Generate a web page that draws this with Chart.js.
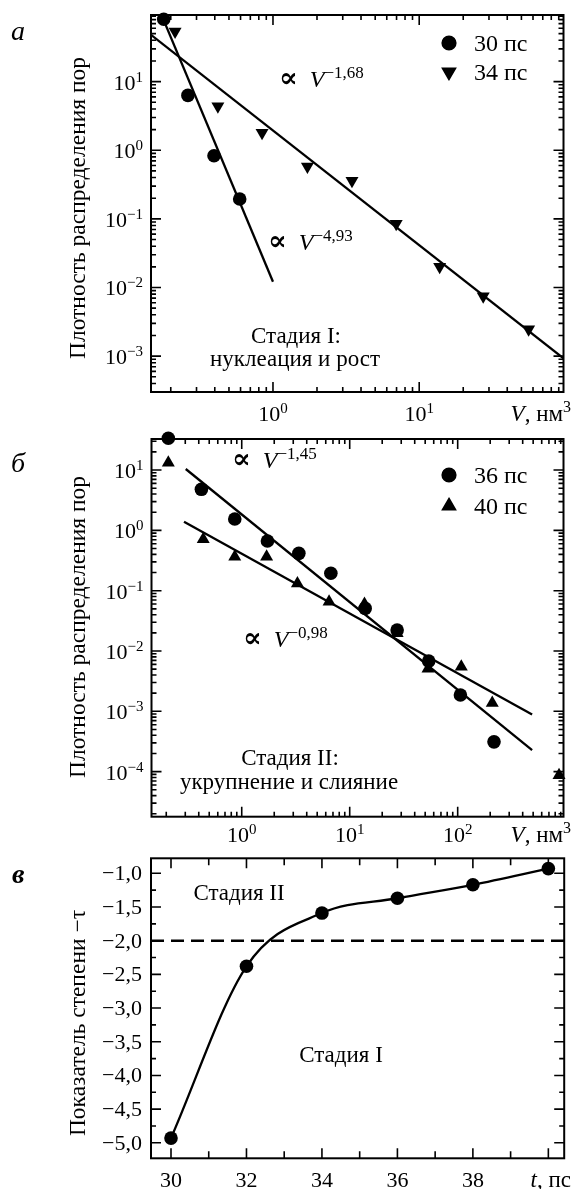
<!DOCTYPE html>
<html>
<head>
<meta charset="utf-8">
<script src="https://cdn.jsdelivr.net/npm/chart.js@4.4.1/dist/chart.umd.min.js"></script>
<style>
  body { margin: 0; background: #fff; width: 571px; height: 1189px; position: relative; overflow: hidden; }
  canvas { position: absolute; left: 0; }
</style>
</head>
<body>
<canvas id="panelA" width="571" height="430" style="top:0"></canvas>
<canvas id="panelB" width="571" height="420" style="top:430px"></canvas>
<canvas id="panelC" width="571" height="339" style="top:850px"></canvas>
<script>
// --- panel a: stage I, pore size distribution (V in nm^3)
const volA30 = [0.179, 0.262, 0.395, 0.592];
const densA30 = [81, 6.3, 0.83, 0.195];
const volA34 = [0.214, 0.42, 0.842, 1.72, 3.47, 6.96, 13.8, 27.4, 56];
const densA34 = [53.6, 4.39, 1.80, 0.58, 0.359, 0.0848, 0.0200, 0.00748, 0.00246];
const fitVolA30 = [0.173, 1.0];
const fitDensA30 = [93, 0.0121];
const fitVolA34 = [0.1465, 97];
const fitDensA34 = [48, 0.00093];

// --- panel b: stage II
const volB36 = [0.209, 0.423, 0.862, 1.73, 3.38, 6.69, 13.9, 27.5, 53.9, 106, 217];
const densB36 = [33.6, 4.79, 1.54, 0.665, 0.416, 0.194, 0.0508, 0.0222, 0.0068, 0.00186, 0.000312];
const volB40 = [0.209, 0.44, 0.862, 1.70, 3.28, 6.44, 13.7, 27.5, 53.1, 108, 209, 868];
const densB40 = [13.2, 0.71, 0.365, 0.365, 0.132, 0.0655, 0.060, 0.0196, 0.0051, 0.00547, 0.00138, 0.0000875];
const fitVolB36 = [0.303, 489];
const fitDensB36 = [10.4, 0.000228];
const fitVolB40 = [0.292, 489];
const fitDensB40 = [1.39, 0.000887];

// --- panel c: exponent vs time
const times = [30, 32, 34, 36, 38, 40];
const exponents = [-4.93, -2.38, -1.59, -1.37, -1.17, -0.93];
const threshold = -2.0;
const tMin = 29.47, tMax = 40.42;

const SERIF = '"Liberation Serif", "Times New Roman", "DejaVu Serif", serif';
const zip = (xs, ys) => xs.map((x, i) => ({ x: x, y: ys[i] }));

function fnt(size, style) { return (style || '') + ' ' + size + 'px ' + SERIF; }

// pieces: [text, kind]; kind: '' normal, 'i' italic, 's' superscript, 'bi' bold italic, 'sym' large symbol
function rich(ctx, pieces, x, y, align, size, supSize, supRise) {
  supSize = supSize || Math.round(size * 0.68);
  supRise = supRise || size * 0.36;
  const fonts = pieces.map(p => p[1] === 's' ? fnt(supSize) : p[1] === 'i' ? fnt(size, 'italic') :
    p[1] === 'bi' ? fnt(size, 'italic bold') : p[1] === 'sym' ? fnt(size + 4, 'bold') : fnt(size));
  let w = 0;
  const ws = pieces.map((p, i) => { ctx.font = fonts[i]; const m = ctx.measureText(p[0]).width; w += m; return m; });
  let cx = align === 'right' ? x - w : align === 'center' ? x - w / 2 : x;
  ctx.textAlign = 'left';
  ctx.textBaseline = 'alphabetic';
  pieces.forEach((p, i) => {
    ctx.font = fonts[i];
    ctx.fillText(p[0], cx, p[1] === 's' ? y - supRise : y);
    cx += ws[i];
  });
}

function tickList(scale, spec) {
  const out = [];
  if (spec.type === 'log') {
    const e0 = Math.floor(Math.log10(scale.min)), e1 = Math.ceil(Math.log10(scale.max));
    for (let e = e0; e <= e1; e++) {
      for (let m = 1; m < 10; m++) {
        const v = m * Math.pow(10, e);
        if (v > scale.min && v < scale.max) out.push({ v: v, major: m === 1, e: e });
      }
    }
  } else {
    const n0 = Math.ceil(scale.min / spec.minor - 1e-9), n1 = Math.floor(scale.max / spec.minor + 1e-9);
    for (let n = n0; n <= n1; n++) {
      const v = n * spec.minor;
      const r = v / spec.major;
      out.push({ v: v, major: Math.abs(r - Math.round(r)) < 1e-6 });
    }
  }
  return out;
}

function figure(cfg) {
  return {
    id: 'figure',
    afterDraw(chart) {
      const ctx = chart.ctx, a = chart.chartArea, sx = chart.scales.x, sy = chart.scales.y;
      ctx.save();
      ctx.fillStyle = '#000';
      ctx.strokeStyle = '#000';

      // frame
      ctx.lineWidth = 2;
      ctx.strokeRect(a.left, a.top, a.right - a.left, a.bottom - a.top);

      // inward ticks on all four sides
      ctx.lineWidth = 1.6;
      const xt = tickList(sx, cfg.x), yt = tickList(sy, cfg.y);
      ctx.beginPath();
      xt.forEach(t => {
        const px = sx.getPixelForValue(t.v), L = t.major ? cfg.x.majorLen : cfg.x.minorLen;
        ctx.moveTo(px, a.bottom); ctx.lineTo(px, a.bottom - L);
        ctx.moveTo(px, a.top); ctx.lineTo(px, a.top + L);
      });
      yt.forEach(t => {
        const py = sy.getPixelForValue(t.v), L = t.major ? cfg.y.majorLen : cfg.y.minorLen;
        ctx.moveTo(a.left, py); ctx.lineTo(a.left + L, py);
        ctx.moveTo(a.right, py); ctx.lineTo(a.right - L, py);
      });
      ctx.stroke();

      // tick labels
      xt.forEach(t => {
        if (!t.major) return;
        const px = sx.getPixelForValue(t.v);
        if (cfg.x.type === 'log') {
          if (cfg.x.labels.indexOf(t.e) < 0) return;
          rich(ctx, [['10', ''], [String(t.e).replace('-', '\u2212'), 's']], px, cfg.x.base, 'center', 22, 15, 8);
        } else {
          if (cfg.x.labels.indexOf(t.v) < 0) return;
          rich(ctx, [[String(t.v), '']], px, cfg.x.base, 'center', 22);
        }
      });
      yt.forEach(t => {
        if (!t.major) return;
        const py = sy.getPixelForValue(t.v);
        if (cfg.y.type === 'log') {
          if (cfg.y.labels.indexOf(t.e) < 0) return;
          rich(ctx, [['10', ''], [String(t.e).replace('-', '\u2212'), 's']], a.left - 8, py + 8, 'right', 22, 15, 8);
        } else {
          const s = t.v.toFixed(1).replace('.', ',').replace('-', '\u2212');
          rich(ctx, [[s, '']], a.left - 9, py + 7, 'right', 22);
        }
      });

      // unit label at the end of the x axis
      rich(ctx, cfg.unit.pieces, cfg.unit.x, cfg.unit.y, 'right', 23, 16, 9);

      // rotated y title
      ctx.save();
      ctx.translate(cfg.ytitle.x, cfg.ytitle.y);
      ctx.rotate(-Math.PI / 2);
      ctx.font = fnt(cfg.ytitle.size);
      ctx.textAlign = 'center';
      ctx.textBaseline = 'middle';
      ctx.fillText(cfg.ytitle.text, 0, 0);
      ctx.restore();

      // panel letter
      rich(ctx, [[cfg.letter.text, cfg.letter.kind]], cfg.letter.x, cfg.letter.y, 'left', 28);

      // legend, markers taken from the datasets' own styles
      (cfg.legend || []).forEach(l => {
        const ds = chart.data.datasets[l.ds];
        Chart.helpers.drawPoint(ctx, {
          pointStyle: ds.pointStyle, rotation: ds.rotation || 0, radius: ds.pointRadius, borderWidth: 1
        }, l.x, l.y);
        ctx.fill();
        rich(ctx, [[ds.label, '']], l.x + 25, l.y + 8, 'left', 24);
      });

      // annotations
      (cfg.notes || []).forEach(n => rich(ctx, n.pieces, n.x, n.y, n.align, n.size || 23, n.sup, n.rise));
      ctx.restore();
    }
  };
}

const lineStyle = { showLine: true, pointRadius: 0, borderColor: '#000', borderWidth: 2.3, fill: false };
const dotStyle = { pointStyle: 'circle', pointRadius: 6.8, backgroundColor: '#000', borderColor: '#000', borderWidth: 0, clip: false };
const triStyle = { pointStyle: 'triangle', pointRadius: 7.5, backgroundColor: '#000', borderColor: '#000', borderWidth: 0, clip: false };
const common = {
  responsive: false, animation: false, events: [],
  plugins: { legend: { display: false }, tooltip: { enabled: false } }
};
const prop = (exp) => [['\u221D', 'sym'], ['  ', ''], ['V', 'i'], [exp, 's']];

// panel a
new Chart(document.getElementById('panelA'), {
  type: 'scatter',
  data: {
    datasets: [
      Object.assign({ data: zip(fitVolA30, fitDensA30) }, lineStyle),
      Object.assign({ data: zip(fitVolA34, fitDensA34) }, lineStyle),
      Object.assign({ label: '30 пс', data: zip(volA30, densA30) }, dotStyle),
      Object.assign({ label: '34 пс', data: zip(volA34, densA34), rotation: 180 }, triStyle)
    ]
  },
  options: Object.assign({}, common, {
    layout: { padding: { left: 151, top: 15, right: 4, bottom: 38 } },
    scales: {
      x: { type: 'logarithmic', display: false, min: 0.1465, max: 97 },
      y: { type: 'logarithmic', display: false, min: 3.21e-4, max: 93.5 }
    }
  }),
  plugins: [figure({
    x: { type: 'log', labels: [0, 1], base: 421, majorLen: 10, minorLen: 5 },
    y: { type: 'log', labels: [-3, -2, -1, 0, 1], majorLen: 10, minorLen: 5 },
    unit: { pieces: [['V', 'i'], [', нм', ''], ['3', 's']], x: 571, y: 421 },
    ytitle: { text: 'Плотность распределения пор', x: 79, y: 208, size: 23.5 },
    letter: { text: 'a', kind: 'i', x: 11, y: 40 },
    legend: [{ ds: 2, x: 449, y: 43 }, { ds: 3, x: 449, y: 72 }],
    notes: [
      { pieces: prop('\u22121,68'), x: 279, y: 87, align: 'left', size: 24, sup: 17, rise: 9 },
      { pieces: prop('\u22124,93'), x: 268, y: 250, align: 'left', size: 24, sup: 17, rise: 9 },
      { pieces: [['Стадия I:', '']], x: 296, y: 343, align: 'center' },
      { pieces: [['нуклеация и рост', '']], x: 295, y: 366, align: 'center' }
    ]
  })]
});

// panel b
new Chart(document.getElementById('panelB'), {
  type: 'scatter',
  data: {
    datasets: [
      Object.assign({ data: zip(fitVolB36, fitDensB36) }, lineStyle),
      Object.assign({ data: zip(fitVolB40, fitDensB40) }, lineStyle),
      Object.assign({ label: '36 пс', data: zip(volB36, densB36) }, dotStyle),
      Object.assign({ label: '40 пс', data: zip(volB40, densB40) }, triStyle)
    ]
  },
  options: Object.assign({}, common, {
    layout: { padding: { left: 151.5, top: 9, right: 4, bottom: 33.3 } },
    scales: {
      x: { type: 'logarithmic', display: false, min: 0.146, max: 955 },
      y: { type: 'logarithmic', display: false, min: 1.79e-5, max: 32.7 }
    }
  }),
  plugins: [figure({
    x: { type: 'log', labels: [0, 1, 2], base: 412, majorLen: 10, minorLen: 5 },
    y: { type: 'log', labels: [-4, -3, -2, -1, 0, 1], majorLen: 10, minorLen: 5 },
    unit: { pieces: [['V', 'i'], [', нм', ''], ['3', 's']], x: 571, y: 412 },
    ytitle: { text: 'Плотность распределения пор', x: 79, y: 197, size: 23.5 },
    letter: { text: 'б', kind: 'i', x: 11, y: 42 },
    legend: [{ ds: 2, x: 449, y: 45 }, { ds: 3, x: 449, y: 76 }],
    notes: [
      { pieces: prop('\u22121,45'), x: 232, y: 38, align: 'left', size: 24, sup: 17, rise: 9 },
      { pieces: prop('\u22120,98'), x: 243, y: 217, align: 'left', size: 24, sup: 17, rise: 9 },
      { pieces: [['Стадия II:', '']], x: 290, y: 335, align: 'center' },
      { pieces: [['укрупнение и слияние', '']], x: 289, y: 359, align: 'center' }
    ]
  })]
});

// panel c
new Chart(document.getElementById('panelC'), {
  type: 'line',
  data: {
    datasets: [
      { data: zip([tMin, tMax], [threshold, threshold]), borderColor: '#000', borderWidth: 2.5, borderDash: [13, 7], pointRadius: 0, fill: false },
      { data: zip(times, exponents), borderColor: '#000', borderWidth: 2.3, cubicInterpolationMode: 'monotone', fill: false,
        pointStyle: 'circle', pointRadius: 6.8, pointBackgroundColor: '#000', pointBorderColor: '#000', pointBorderWidth: 0, clip: false }
    ]
  },
  options: Object.assign({}, common, {
    layout: { padding: { left: 151, top: 8.3, right: 4, bottom: 30.7 } },
    scales: {
      x: { type: 'linear', display: false, min: tMin, max: tMax },
      y: { type: 'linear', display: false, min: -5.23, max: -0.777 }
    }
  }),
  plugins: [figure({
    x: { type: 'lin', major: 2, minor: 1, labels: [30, 32, 34, 36, 38], base: 337, majorLen: 10, minorLen: 7 },
    y: { type: 'lin', major: 0.5, minor: 0.25, majorLen: 10, minorLen: 5 },
    unit: { pieces: [['t', 'i'], [', пс', '']], x: 571, y: 337 },
    ytitle: { text: 'Показатель степени \u2212\u03C4', x: 79, y: 173, size: 23.5 },
    letter: { text: 'в', kind: 'bi', x: 12, y: 33 },
    notes: [
      { pieces: [['Стадия II', '']], x: 239, y: 50, align: 'center' },
      { pieces: [['Стадия I', '']], x: 341, y: 212, align: 'center' }
    ]
  })]
});
</script>
</body>
</html>
